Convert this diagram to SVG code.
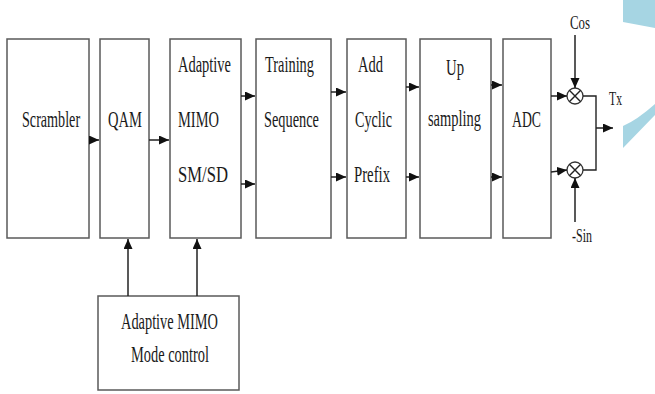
<svg xmlns="http://www.w3.org/2000/svg" width="655" height="394" viewBox="0 0 655 394">
<defs>
<style>
.box{fill:#fff;stroke:#5a5a5a;stroke-width:1.5}
.t{font-family:"Liberation Serif","Times New Roman",serif;font-size:23px;fill:#1a1a1a}
.s{font-family:"Liberation Serif","Times New Roman",serif;font-size:19px;fill:#1a1a1a}
.c{fill:none;stroke:#222;stroke-width:1.4}
.a{fill:none;stroke:#222;stroke-width:1.5;marker-end:url(#ah)}
.mul{fill:#fff;stroke:#333;stroke-width:1.3}
.deco{fill:#a6d5e3}
</style>
<marker id="ah" markerUnits="userSpaceOnUse" markerWidth="11" markerHeight="10" refX="10" refY="4.5" orient="auto">
<path d="M0,0 L10,4.5 L0,9 Z" fill="#111"/>
</marker>
</defs>
<rect width="655" height="394" fill="#fff"/>
<g id="decor">
<polygon class="deco" points="623,0 655,0 655,28 623,22"/>
<path class="deco" d="M655,104 Q637,120 623,126 L623,148 L655,115 Z"/>
</g>
<g id="scrambler"><rect class="box" x="7" y="39" width="82" height="199"/><text class="t" transform="translate(22,127) scale(0.7,1)" textLength="83" lengthAdjust="spacingAndGlyphs">Scrambler</text></g>
<g id="qam"><rect class="box" x="100" y="39" width="49" height="199"/><text class="t" transform="translate(108,127) scale(0.7,1)" textLength="48.5" lengthAdjust="spacingAndGlyphs">QAM</text></g>
<g id="adaptive"><rect class="box" x="170" y="39" width="71" height="199"/>
<text class="t" x="178" y="72" textLength="53" lengthAdjust="spacingAndGlyphs">Adaptive</text>
<text class="t" x="178" y="127" textLength="41" lengthAdjust="spacingAndGlyphs">MIMO</text>
<text class="t" x="178" y="182" textLength="50" lengthAdjust="spacingAndGlyphs">SM/SD</text></g>
<g id="training"><rect class="box" x="256" y="39" width="75" height="199"/>
<text class="t" x="265" y="72" textLength="49" lengthAdjust="spacingAndGlyphs">Training</text>
<text class="t" x="264" y="127" textLength="55" lengthAdjust="spacingAndGlyphs">Sequence</text></g>
<g id="cyclic"><rect class="box" x="347" y="39" width="59" height="199"/>
<text class="t" x="358" y="72" textLength="25" lengthAdjust="spacingAndGlyphs">Add</text>
<text class="t" x="355" y="127" textLength="37" lengthAdjust="spacingAndGlyphs">Cyclic</text>
<text class="t" x="354" y="182" textLength="36" lengthAdjust="spacingAndGlyphs">Prefix</text></g>
<g id="upsampling"><rect class="box" x="420" y="39" width="71" height="199"/>
<text class="t" x="446" y="75" textLength="18" lengthAdjust="spacingAndGlyphs">Up</text>
<text class="t" x="428" y="126" textLength="53" lengthAdjust="spacingAndGlyphs">sampling</text></g>
<g id="adc"><rect class="box" x="503" y="39" width="48" height="199"/>
<text class="t" x="512" y="127" textLength="29" lengthAdjust="spacingAndGlyphs">ADC</text></g>
<g id="modecontrol"><rect class="box" x="98" y="296" width="141" height="94"/>
<text class="t" x="121" y="329" textLength="97" lengthAdjust="spacingAndGlyphs">Adaptive MIMO</text>
<text class="t" x="131" y="362" textLength="78" lengthAdjust="spacingAndGlyphs">Mode control</text></g>
<g id="mul-cos"><circle class="mul" cx="575" cy="96" r="8"/><path class="c" d="M569.3,90.3 L580.7,101.7 M580.7,90.3 L569.3,101.7" stroke-width="1"/></g>
<g id="mul-sin"><circle class="mul" cx="575" cy="170" r="8"/><path class="c" d="M569.3,164.3 L580.7,175.7 M580.7,164.3 L569.3,175.7" stroke-width="1"/></g>
<g id="labels">
<text class="s" x="570" y="29" textLength="20" lengthAdjust="spacingAndGlyphs">Cos</text>
<text class="s" x="572" y="242" textLength="20" lengthAdjust="spacingAndGlyphs">-Sin</text>
<text class="s" x="609" y="105" textLength="13" lengthAdjust="spacingAndGlyphs">Tx</text>
</g>
<g id="connectors">
<path class="a" d="M89,140 H99"/>
<path class="a" d="M149,140 H169"/>
<path class="a" d="M241,96 H255"/>
<path class="a" d="M241,184 H255"/>
<path class="a" d="M331,92 H346"/>
<path class="a" d="M331,177 H346"/>
<path class="a" d="M406,87 H419"/>
<path class="a" d="M406,177 H419"/>
<path class="a" d="M491,85 H502"/>
<path class="a" d="M491,177 H502"/>
<path class="a" d="M551,96 H567"/>
<path class="a" d="M551,172 L567,170"/>
<path class="a" d="M575,35 V88"/>
<path class="a" d="M575,222 V178"/>
<path class="c" d="M583,96 H596 V170 H583"/>
<path class="a" d="M596,128 H613"/>
<path class="a" d="M128,296 V239"/>
<path class="a" d="M197,296 V239"/>
</g>
</svg>
